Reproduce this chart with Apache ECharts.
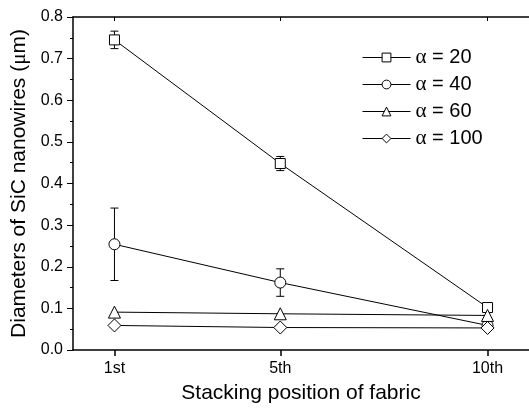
<!DOCTYPE html>
<html>
<head>
<meta charset="utf-8">
<script src="https://cdn.jsdelivr.net/npm/echarts@6/dist/echarts.min.js"></script>
<style>
  html, body { margin: 0; padding: 0; background: #fff; }
  #chart { width: 529px; height: 409px; }
</style>
</head>
<body>
<div id="chart"></div>
<script>
// stacking positions (numeric, x axis) and their tick labels
const positions = [1, 5, 10];
const positionLabels = ['1st', '5th', '10th'];

const seriesNames = ['α = 20', 'α = 40', 'α = 60', 'α = 100'];
const symbols = ['rect', 'circle', 'triangle', 'diamond'];

// diameters (µm)
const alpha20 = [0.745, 0.448, 0.102];
const alpha40 = [0.254, 0.162, 0.059];
const alpha60 = [0.091, 0.087, 0.083];
const alpha100 = [0.059, 0.054, 0.053];

// error bars (+/-)
const err20 = [0.021, 0.017, 0];
const err40 = [0.087, 0.033, 0];
const err60 = [0, 0, 0];
const err100 = [0, 0, 0];

const allValues = [alpha20, alpha40, alpha60, alpha100];
const allErrors = [err20, err40, err60, err100];
const symbolSizes = [10, 11, 12, 13];

const font = 'Liberation Sans, Arial, sans-serif';
const serif = 'Liberation Serif, Times New Roman, serif';

const chart = echarts.init(document.getElementById('chart'));

const lineSeries = seriesNames.map((name, i) => ({
  name: name,
  type: 'line',
  data: positions.map((p, j) => [p, allValues[i][j]]),
  symbol: symbols[i],
  symbolSize: symbolSizes[i],
  showAllSymbol: true,
  lineStyle: { color: '#000', width: 1 },
  itemStyle: { color: '#fff', borderColor: '#000', borderWidth: 1 },
  emphasis: { disabled: true },
  z: 3
}));

// error bars via custom series
const errorData = [];
allValues.forEach((vals, i) => {
  vals.forEach((v, j) => {
    if (allErrors[i][j] > 0) {
      errorData.push([positions[j], v - allErrors[i][j], v + allErrors[i][j]]);
    }
  });
});

const errorSeries = {
  type: 'custom',
  data: errorData,
  z: 2,
  renderItem: function (params, api) {
    const x = api.value(0);
    const lo = api.coord([x, api.value(1)]);
    const hi = api.coord([x, api.value(2)]);
    const w = 4;
    const style = { stroke: '#000', lineWidth: 1, fill: null };
    return {
      type: 'group',
      children: [
        { type: 'line', shape: { x1: lo[0], y1: lo[1], x2: hi[0], y2: hi[1] }, style: style },
        { type: 'line', shape: { x1: lo[0] - w, y1: lo[1], x2: lo[0] + w, y2: lo[1] }, style: style },
        { type: 'line', shape: { x1: hi[0] - w, y1: hi[1], x2: hi[0] + w, y2: hi[1] }, style: style }
      ]
    };
  }
};

chart.setOption({
  animation: false,
  backgroundColor: '#fff',
  grid: { left: 73, right: 0, top: 17, bottom: 56 },
  legend: {
    orient: 'vertical',
    left: 357,
    top: 42,
    itemWidth: 48,
    itemHeight: 11,
    itemGap: 6,
    data: seriesNames,
    lineStyle: { width: 1, color: '#000' },
    itemStyle: { color: '#fff', borderColor: '#000', borderWidth: 1 },
    textStyle: {
      fontFamily: font,
      fontSize: 20,
      lineHeight: 20,
      color: '#000',
      padding: [0, 0, 0, 0],
      rich: {
        a: { fontFamily: serif, fontSize: 21, lineHeight: 20, color: '#000' }
      }
    },
    formatter: function (name) {
      return name.replace('α', '{a|α}');
    }
  },
  xAxis: [
    {
      type: 'value',
      min: 0,
      max: 11,
      position: 'bottom',
      name: 'Stacking position of fabric',
      nameLocation: 'middle',
      nameGap: 33,
      nameTextStyle: { fontFamily: font, fontSize: 21, color: '#000' },
      splitLine: { show: false },
      axisLine: { show: true, lineStyle: { color: '#000', width: 1.5 } },
      axisTick: { show: true, customValues: positions, length: 6, lineStyle: { color: '#000', width: 1.5 } },
      axisLabel: {
        customValues: positions,
        fontFamily: font,
        fontSize: 16,
        color: '#000',
        margin: 11,
        formatter: function (v) {
          return positionLabels[positions.indexOf(v)];
        }
      }
    },
    {
      type: 'value',
      min: 0,
      max: 11,
      position: 'top',
      splitLine: { show: false },
      axisLine: { show: true, lineStyle: { color: '#000', width: 1.5 } },
      axisTick: { show: true, inside: true, customValues: positions, length: 4, lineStyle: { color: '#000' } },
      axisLabel: { show: false }
    }
  ],
  yAxis: {
    type: 'value',
    min: 0,
    max: 0.8,
    interval: 0.1,
    name: 'Diameters of SiC nanowires ({m|μ}m)',
    nameLocation: 'middle',
    nameGap: 38,
    nameTextStyle: {
      fontFamily: font,
      fontSize: 21,
      color: '#000',
      rich: { m: { fontFamily: serif, fontSize: 21, color: '#000' } }
    },
    splitLine: { show: false },
    axisLine: { show: true, lineStyle: { color: '#000', width: 1.5 } },
    axisTick: { show: true, length: 6, lineStyle: { color: '#000', width: 1 } },
    minorTick: { show: true, splitNumber: 2, length: 3, lineStyle: { color: '#000' } },
    axisLabel: {
      fontFamily: font,
      fontSize: 16,
      color: '#000',
      margin: 10,
      formatter: function (v) { return v.toFixed(1); }
    }
  },
  series: lineSeries.concat([errorSeries])
});
</script>
</body>
</html>
